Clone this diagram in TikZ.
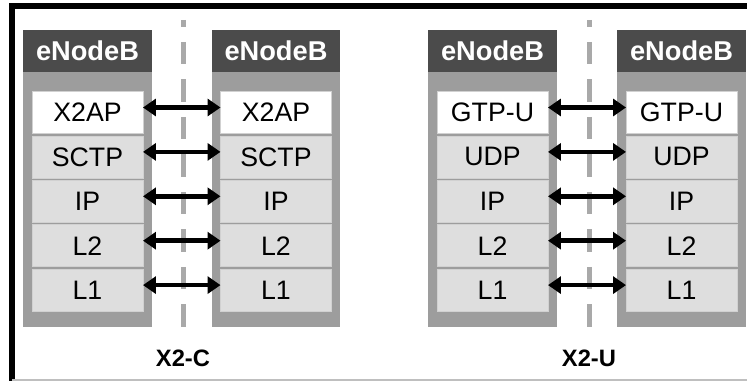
\documentclass[tikz,border=0pt]{standalone}
\usepackage{fontspec}
\setmainfont{Liberation Sans}
\usetikzlibrary{arrows.meta}
\definecolor{headgray}{HTML}{4B4B4B}
\definecolor{bodygray}{HTML}{9D9D9D}
\definecolor{layergray}{HTML}{DEDEDE}
\definecolor{cutgray}{HTML}{A9A9A9}
\tikzset{
  enbbody/.style={fill=bodygray, minimum width=2.58cm, minimum height=5.1cm, inner sep=0, outer sep=0},
  enbhead/.style={fill=headgray, text=white, font=\bfseries\fontsize{15.5}{18}\selectfont,
    minimum width=2.58cm, minimum height=0.84cm, inner sep=0, outer sep=0},
  layer/.style={draw=black!18, line width=0.4pt, font=\fontsize{15.2}{18}\selectfont,
    minimum width=2.22cm, minimum height=0.84cm, inner sep=0, outer sep=0},
  link/.style={line width=0.09cm, {Triangle[length=0.26cm,width=0.34cm]}-{Triangle[length=0.26cm,width=0.34cm]}},
  cut/.style={cutgray, line width=0.1cm, dash pattern=on 0.45cm off 0.3cm, dash phase=0.31cm},
  iflabel/.style={font=\bfseries\fontsize{13.5}{16}\selectfont}
}
\begin{document}
\begin{tikzpicture}[x=0.02cm,y=-0.02cm]
\useasboundingbox (0,0) rectangle (747,381);
\draw[line width=0.11cm] (12,381)--(12,6)--(747,6);
\draw[black!25, line width=0.03cm] (12,380)--(747,380);

\foreach \nm/\x in {a/87.5,b/276,c/492.5,d/681.5}{
\node[enbbody] (\nm body) at (\x,199.5) {};
\node[enbhead] (\nm head) at (\x,51) {eNodeB};
}

\draw[cut] (183,20)--(183,327);
\draw[cut] (589,20)--(589,327);

\foreach \lbl/\fc [count=\i] in {X2AP/white,SCTP/layergray,IP/layergray,L2/layergray,L1/layergray}{
\node[layer, fill=\fc] (a\i) at (87.5,68.1+44.4*\i) {\lbl};
\node[layer, fill=\fc] (b\i) at (276,68.1+44.4*\i) {\lbl};
\draw[link] ([yshift=0.1cm]a\i.east)--([yshift=0.1cm]b\i.west);
}
\foreach \lbl/\fc [count=\i] in {GTP-U/white,UDP/layergray,IP/layergray,L2/layergray,L1/layergray}{
\node[layer, fill=\fc] (c\i) at (492.5,68.1+44.4*\i) {\lbl};
\node[layer, fill=\fc] (d\i) at (681.5,68.1+44.4*\i) {\lbl};
\draw[link] ([yshift=0.1cm]c\i.east)--([yshift=0.1cm]d\i.west);
}

\node[iflabel] (x2c) at (183,358) {X2-C};
\node[iflabel] (x2u) at (589,358) {X2-U};
\end{tikzpicture}
\end{document}
